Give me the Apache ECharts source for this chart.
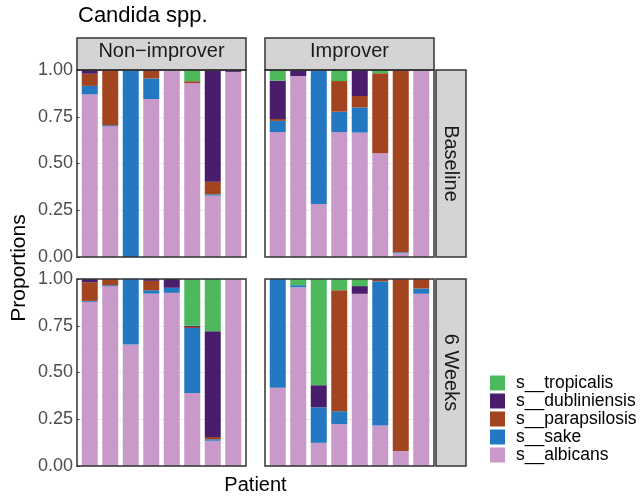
<!DOCTYPE html>
<html>
<head>
<meta charset="utf-8">
<script src="https://cdn.jsdelivr.net/npm/echarts@6/dist/echarts.min.js"></script>
<style>
  html, body { margin: 0; padding: 0; background: #ffffff; }
  #chart { width: 644px; height: 499px; }
</style>
</head>
<body>
<div id="chart"></div>
<script>
// ---- data -------------------------------------------------------------
const patients = ['1', '2', '3', '4', '5', '6', '7', '8'];
const species = ['s__albicans', 's__sake', 's__parapsilosis', 's__dubliniensis', 's__tropicalis'];
const groups = ['Non\u2212improver', 'Improver'];
const timepoints = ['Baseline', '6 Weeks'];
const yTicks = [0, 0.25, 0.5, 0.75, 1];

// Non-improver, Baseline
const nbAlbicans      = [0.870, 0.700, 0.000, 0.845, 1.000, 0.930, 0.328, 0.990];
const nbSake          = [0.045, 0.005, 1.000, 0.110, 0.000, 0.000, 0.007, 0.000];
const nbParapsilosis  = [0.065, 0.295, 0.000, 0.040, 0.000, 0.010, 0.068, 0.000];
const nbDubliniensis  = [0.020, 0.000, 0.000, 0.005, 0.000, 0.000, 0.597, 0.010];
const nbTropicalis    = [0.000, 0.000, 0.000, 0.000, 0.000, 0.060, 0.000, 0.000];

// Improver, Baseline
const ibAlbicans      = [0.668, 0.968, 0.283, 0.668, 0.665, 0.555, 0.020, 1.000];
const ibSake          = [0.060, 0.000, 0.717, 0.109, 0.135, 0.000, 0.005, 0.000];
const ibParapsilosis  = [0.010, 0.000, 0.000, 0.164, 0.061, 0.428, 0.975, 0.000];
const ibDubliniensis  = [0.205, 0.032, 0.000, 0.000, 0.139, 0.000, 0.000, 0.000];
const ibTropicalis    = [0.057, 0.000, 0.000, 0.059, 0.000, 0.017, 0.000, 0.000];

// Non-improver, 6 Weeks
const nwAlbicans      = [0.878, 0.962, 0.650, 0.922, 0.926, 0.390, 0.135, 1.000];
const nwSake          = [0.005, 0.005, 0.350, 0.018, 0.027, 0.348, 0.008, 0.000];
const nwParapsilosis  = [0.100, 0.033, 0.000, 0.050, 0.000, 0.006, 0.012, 0.000];
const nwDubliniensis  = [0.017, 0.000, 0.000, 0.010, 0.047, 0.006, 0.566, 0.000];
const nwTropicalis    = [0.000, 0.000, 0.000, 0.000, 0.000, 0.250, 0.279, 0.000];

// Improver, 6 Weeks
const iwAlbicans      = [0.418, 0.956, 0.124, 0.224, 0.921, 0.217, 0.080, 0.921];
const iwSake          = [0.582, 0.011, 0.190, 0.069, 0.000, 0.771, 0.000, 0.028];
const iwParapsilosis  = [0.000, 0.000, 0.000, 0.647, 0.000, 0.012, 0.920, 0.051];
const iwDubliniensis  = [0.000, 0.000, 0.118, 0.000, 0.041, 0.000, 0.000, 0.000];
const iwTropicalis    = [0.000, 0.033, 0.568, 0.060, 0.038, 0.000, 0.000, 0.000];

// ---- styling ----------------------------------------------------------
const FONT = 'Liberation Sans, Arial, sans-serif';
const speciesColors = {
  's__albicans': '#c99ac9',
  's__sake': '#2477c1',
  's__parapsilosis': '#a2441f',
  's__dubliniensis': '#4a1d6c',
  's__tropicalis': '#4db85c'
};

// facet layout: rows = timepoints, columns = groups
const panelLeft = [77, 265];
const panelTop = [70, 279];
const panelW = 169;
const panelH = 187;
const innerPad = 2.5;   // horizontal space between panel frame and the category band

const panels = [
  { row: 0, col: 0, values: [nbAlbicans, nbSake, nbParapsilosis, nbDubliniensis, nbTropicalis] },
  { row: 0, col: 1, values: [ibAlbicans, ibSake, ibParapsilosis, ibDubliniensis, ibTropicalis] },
  { row: 1, col: 0, values: [nwAlbicans, nwSake, nwParapsilosis, nwDubliniensis, nwTropicalis] },
  { row: 1, col: 1, values: [iwAlbicans, iwSake, iwParapsilosis, iwDubliniensis, iwTropicalis] }
];

const grid = [], xAxis = [], yAxis = [], series = [], graphic = [];

panels.forEach((p, i) => {
  const showY = p.col === 0;
  grid.push({
    left: panelLeft[p.col] + innerPad, top: panelTop[p.row],
    width: panelW - 2 * innerPad, height: panelH
  });
  xAxis.push({
    type: 'category', gridIndex: i, data: patients, boundaryGap: true,
    axisLine: { show: false }, axisTick: { show: false }, axisLabel: { show: false },
    splitLine: { show: false }
  });
  yAxis.push({
    type: 'value', gridIndex: i, min: yTicks[0], max: yTicks[yTicks.length - 1],
    interval: yTicks[1] - yTicks[0],
    axisLine: { show: false },
    axisTick: { show: showY, length: 3, lineStyle: { color: '#333333', width: 1 } },
    axisLabel: {
      show: showY, fontSize: 18, color: '#4d4d4d', margin: 4 + innerPad, fontFamily: FONT,
      formatter: v => v.toFixed(2)
    },
    splitLine: { show: true, lineStyle: { color: '#ebebeb', width: 1 } },
    minorTick: { show: false, splitNumber: 2 },
    minorSplitLine: { show: true, lineStyle: { color: '#f3f3f3', width: 1 } }
  });
  species.forEach((name, s) => {
    series.push({
      type: 'bar', name: name,
      xAxisIndex: i, yAxisIndex: i,
      stack: 'panel' + i,
      barWidth: 16,
      itemStyle: { color: speciesColors[name] },
      emphasis: { disabled: true },
      data: p.values[s]
    });
  });
  // panel frame drawn above the bars
  graphic.push({
    type: 'rect', z: 100,
    shape: { x: panelLeft[p.col], y: panelTop[p.row], width: panelW, height: panelH },
    style: { fill: null, stroke: '#333333', lineWidth: 1.5 }
  });
});

// title, strips, axis titles
graphic.push({
  type: 'text', x: 78, y: 16,
  style: { text: 'Candida spp.', font: '22px ' + FONT, fill: '#000000', align: 'left', verticalAlign: 'middle' }
});
groups.forEach((g, c) => {
  graphic.push({
    type: 'rect', shape: { x: panelLeft[c], y: 38, width: panelW, height: 32 },
    style: { fill: '#d4d4d4', stroke: '#333333', lineWidth: 1.5 }, z: 5
  });
  graphic.push({
    type: 'text', x: panelLeft[c] + panelW / 2, y: 51, z: 6,
    style: { text: g, font: '20px ' + FONT, fill: '#1a1a1a', align: 'center', verticalAlign: 'middle' }
  });
});
timepoints.forEach((t, r) => {
  graphic.push({
    type: 'rect', shape: { x: 436, y: panelTop[r], width: 30, height: panelH },
    style: { fill: '#d4d4d4', stroke: '#333333', lineWidth: 1.5 }, z: 5
  });
  graphic.push({
    type: 'text', x: 451, y: panelTop[r] + panelH / 2, rotation: -Math.PI / 2, z: 6,
    style: { text: t, font: '20px ' + FONT, fill: '#1a1a1a', align: 'center', verticalAlign: 'middle' }
  });
});
graphic.push({
  type: 'text', x: 19, y: 268, rotation: Math.PI / 2,
  style: { text: 'Proportions', font: '21px ' + FONT, fill: '#000000', align: 'center', verticalAlign: 'middle' }
});
graphic.push({
  type: 'text', x: 255.5, y: 485,
  style: { text: 'Patient', font: '20px ' + FONT, fill: '#000000', align: 'center', verticalAlign: 'middle' }
});

const chart = echarts.init(document.getElementById('chart'), null, { renderer: 'canvas' });
chart.setOption({
  animation: false,
  backgroundColor: '#ffffff',
  grid, xAxis, yAxis, series, graphic,
  legend: {
    orient: 'vertical', left: 490, top: 374, padding: 0,
    itemWidth: 15, itemHeight: 15, itemGap: 0,
    icon: 'rect', selectedMode: false,
    data: species.slice().reverse(),
    textStyle: { fontSize: 17.5, color: '#000000', fontFamily: FONT, padding: [0, 0, 0, 6] }
  }
});
</script>
</body>
</html>
